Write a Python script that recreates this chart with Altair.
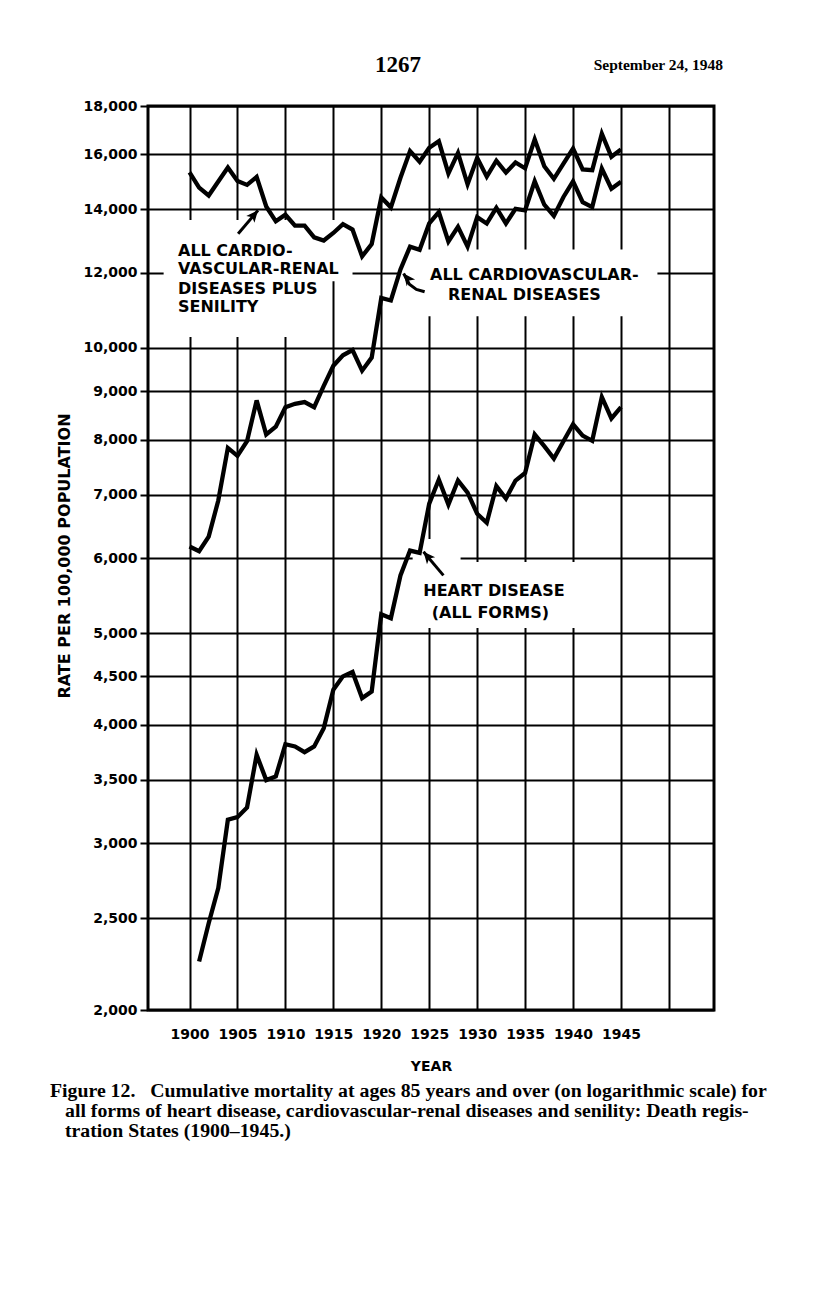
import altair as alt
import pandas as pd

# ---------------- data ----------------
years_cvr = list(range(1900, 1946))
cvr_plus_senility = [15320, 14760, 14480, 14980, 15500, 15000, 14860, 15150, 14100, 13600,
                     13820, 13460, 13460, 13080, 12980, 13220, 13510, 13330, 12490, 12870,
                     14410, 14070, 15120, 16130, 15720, 16260, 16520, 15280, 16060, 14880,
                     15870, 15160, 15760, 15310, 15690, 15470, 16600, 15550, 15080, 15650,
                     16230, 15430, 15400, 16830, 15910, 16200]
cvr_renal = [6170, 6100, 6320, 6900, 7840, 7690, 7970, 8800, 8100, 8255,
             8656, 8728, 8764, 8656, 9115, 9574, 9820, 9945, 9460, 9765,
             11290, 11220, 12100, 12790, 12690, 13530, 13910, 12950, 13420, 12790,
             13740, 13530, 14050, 13530, 14020, 13970, 14990, 14160, 13780, 14430,
             14990, 14250, 14080, 15460, 14720, 14970]
years_heart = list(range(1901, 1946))
heart_disease = [2250, 2470, 2690, 3176, 3196, 3272, 3719, 3497, 3528,
                 3816, 3795, 3743, 3795, 3968, 4356, 4500, 4548, 4269, 4338,
                 5233, 5183, 5751, 6109, 6074, 6848, 7260, 6831, 7243, 7033,
                 6682, 6537, 7146, 6932, 7243, 7377, 8100, 7874, 7640, 7968,
                 8304, 8080, 7978, 8874, 8422, 8656]

y_tick_values = [2000, 2500, 3000, 3500, 4000, 4500, 5000, 6000, 7000, 8000, 9000,
                 10000, 12000, 14000, 16000, 18000]
x_grid_years = list(range(1900, 1951, 5))

# annotation text (year, rate, text)
label_years = [1898.8, 1898.8, 1898.8, 1898.8, 1925.08, 1926.96, 1924.38, 1925.26]
label_rates = [12494, 11970, 11410, 10905, 11790, 11240, 5476, 5183]
label_texts = ["ALL CARDIO-", "VASCULAR-RENAL", "DISEASES PLUS", "SENILITY",
               "ALL CARDIOVASCULAR-", "RENAL DISEASES", "HEART DISEASE", "(ALL FORMS)"]

# arrows: tail ... head
arrow_names = ["senility", "senility", "cvr", "cvr", "cvr", "cvr", "heart", "heart"]
arrow_years = [1905.07, 1907.14, 1924.52, 1923.66, 1922.93, 1922.33, 1926.48, 1924.40]
arrow_rates = [13195, 13967, 11460, 11527, 11672, 11979, 5752, 6093]

# blank areas behind the labels (year range, rate range)
blank_x0 = [1897.3, 1897.3, 1922.0, 1923.27, 1923.27]
blank_x1 = [1917.0, 1914.6, 1948.8, 1941.7, 1928.27]
blank_y0 = [11760, 10268, 10796, 5060, 5943]
blank_y1 = [13640, 11760, 12700, 5943, 6284]

caption_lines = [
    "Figure 12.\u00a0\u00a0\u00a0Cumulative mortality at ages 85 years and over (on logarithmic scale) for",
    "all forms of heart disease, cardiovascular-renal diseases and senility: Death regis-",
    "tration States (1900\u20131945.)",
]

# ---------------- tables ----------------
lines_df = pd.concat([
    pd.DataFrame({"year": years_cvr, "value": cvr_plus_senility, "series": "cvr_senility"}),
    pd.DataFrame({"year": years_cvr, "value": cvr_renal, "series": "cvr"}),
    pd.DataFrame({"year": years_heart, "value": heart_disease, "series": "heart"}),
])
labels_df = pd.DataFrame({"year": label_years, "value": label_rates, "text": label_texts})
arrows_df = pd.DataFrame({"year": arrow_years, "value": arrow_rates, "arrow": arrow_names,
                          "order": list(range(len(arrow_names)))})
heads_df = arrows_df.groupby("arrow", as_index=False).last()
blank_df = pd.DataFrame({"x0": blank_x0, "x1": blank_x1, "y0": blank_y0, "y1": blank_y1})

# ---------------- scales & axes ----------------
xscale = alt.Scale(domain=[1895.67, 1954.7], nice=False, zero=False)
yscale = alt.Scale(type="log", domain=[2000, 18000], nice=False)

xaxis = alt.Axis(values=x_grid_years, format="d",
                 labelExpr="datum.value <= 1945 ? datum.label : ''",
                 grid=True, gridColor="black", gridWidth=2, gridOpacity=1,
                 domain=False, ticks=False, tickSize=0, labelPadding=17,
                 labelFont="DejaVu Sans", labelFontWeight="bold", labelFontSize=14,
                 labelColor="black", labelFlush=False, labelOverlap=False,
                 title="YEAR", titleFont="DejaVu Sans", titleFontWeight="bold",
                 titleFontSize=14, titleColor="black", titlePadding=18)
yaxis = alt.Axis(values=y_tick_values, format=",",
                 grid=True, gridColor="black", gridWidth=2, gridOpacity=1,
                 domain=False, ticks=True, tickSize=8, tickWidth=2, tickColor="black",
                 labelPadding=3, labelFont="DejaVu Sans", labelFontWeight="bold",
                 labelFontSize=14, labelColor="black", labelFlush=False,
                 labelOverlap=False, title=None)


def X(field):
    return alt.X(f"{field}:Q", scale=xscale, axis=xaxis)


def Y(field):
    return alt.Y(f"{field}:Q", scale=yscale, axis=yaxis)


blanks = alt.Chart(blank_df).mark_rect(color="white", opacity=1).encode(
    x=X("x0"), x2="x1", y=Y("y0"), y2="y1")

lines = alt.Chart(lines_df).mark_line(color="black", strokeWidth=4.3).encode(
    x=X("year"), y=Y("value"), detail="series:N")

arrows = alt.Chart(arrows_df).mark_line(color="black", strokeWidth=3).encode(
    x=X("year"), y=Y("value"), detail="arrow:N", order="order:Q")

head_shape = "M0,0L0.45,1L0,0.75L-0.45,1Z"
head_angles = {"senility": 40, "cvr": 322, "heart": 320}
heads = [
    alt.Chart(heads_df).transform_filter(alt.datum.arrow == name)
    .mark_point(shape=head_shape, filled=True, color="black", opacity=1, size=560, angle=ang)
    .encode(x=X("year"), y=Y("value"))
    for name, ang in head_angles.items()
]

labels = alt.Chart(labels_df).mark_text(
    align="left", baseline="alphabetic", font="DejaVu Sans", fontWeight="bold",
    fontSize=16, color="black").encode(
    x=X("year"), y=Y("value"), text="text:N")

# page furniture (pixel positions relative to the plot origin)
page_no = alt.Chart(pd.DataFrame({"t": ["1267"]})).mark_text(
    align="center", baseline="alphabetic", font="Liberation Serif", fontWeight="bold",
    fontSize=23, color="black").encode(x=alt.value(250), y=alt.value(-34), text="t:N")
date_txt = alt.Chart(pd.DataFrame({"t": ["September 24, 1948"]})).mark_text(
    align="right", baseline="alphabetic", font="Liberation Serif", fontWeight="bold",
    fontSize=15.5, color="black").encode(x=alt.value(575), y=alt.value(-36.5), text="t:N")
ytitle = alt.Chart(pd.DataFrame({"t": ["RATE PER 100,000 POPULATION"]})).mark_text(
    align="center", baseline="middle", angle=270, font="DejaVu Sans", fontWeight="bold",
    fontSize=16, color="black").encode(x=alt.value(-83), y=alt.value(450), text="t:N")
cap1 = alt.Chart(pd.DataFrame({"t": caption_lines[:1]})).mark_text(
    align="left", baseline="alphabetic", font="Liberation Serif", fontWeight="bold",
    fontSize=19.8, color="black").encode(x=alt.value(-98), y=alt.value(991), text="t:N")
cap2 = alt.Chart(pd.DataFrame({"t": caption_lines[1:2]})).mark_text(
    align="left", baseline="alphabetic", font="Liberation Serif", fontWeight="bold",
    fontSize=19.8, color="black").encode(x=alt.value(-83), y=alt.value(1011), text="t:N")
cap3 = alt.Chart(pd.DataFrame({"t": caption_lines[2:]})).mark_text(
    align="left", baseline="alphabetic", font="Liberation Serif", fontWeight="bold",
    fontSize=19.8, color="black").encode(x=alt.value(-83), y=alt.value(1031), text="t:N")

chart = alt.layer(
    blanks, lines, arrows, *heads, labels, page_no, date_txt, ytitle, cap1, cap2, cap3
).properties(
    width=566, height=904,
    padding={"left": 140, "top": 98, "right": 92, "bottom": 170},
    autosize=alt.AutoSizeParams(type="none"),
    background="white",
).configure_view(stroke="black", strokeWidth=3)

chart.save("out.html", embed_options={"renderer": "svg", "actions": False})
